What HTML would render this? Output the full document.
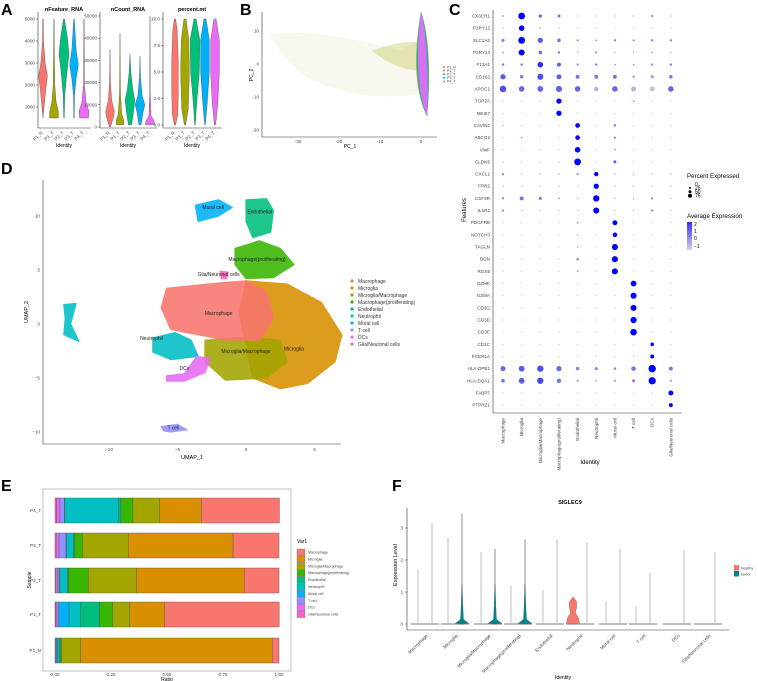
<!DOCTYPE html>
<html><head><meta charset="utf-8"><style>
html,body{margin:0;padding:0;background:#fff;}
svg{display:block;font-family:"Liberation Sans",sans-serif;}
</style></head><body>
<svg id="fig" width="758" height="681" viewBox="0 0 758 681" xmlns="http://www.w3.org/2000/svg">
<g id="letters" font-weight="bold" font-size="16" fill="#000">
<text x="1" y="15">A</text>
<text x="240" y="15">B</text>
<text x="449" y="15">C</text>
<text x="1" y="174">D</text>
<text x="1" y="491">E</text>
<text x="392" y="491">F</text>
</g>
<g id="pA"></g>
<g id="pB"></g>
<g id="pC"></g>
<g id="pD"></g>
<g id="pE"></g>
<g id="pF"></g>
</svg>
<script>
// ---------- data ----------
const sampleNames = ["P1_N","P1_T","P2_T","P3_T","P4_T"];
const sampleColors = ["#F8766D","#A3A500","#00BF7D","#00B0F6","#E76BF3"];
const cellTypes = ["Macrophage","Microglia","Microglia/Macrophage","Macrophage(proliferating)","Endothelial","Neutrophil","Mural cell","T cell","DCs","Glia/Neuronal cells"];
const typeColors = ["#F8766D","#D89000","#A3A500","#39B600","#00BF7D","#00BFC4","#00B0F6","#9590FF","#E76BF3","#FF62BC"];
// panel A violin profiles: [value, halfwidth]
const nFeatureProfiles = [
 [[500,0],[1000,2],[1800,5],[2400,8],[3000,4],[4000,1],[5000,0.5]],
 [[500,8],[800,8],[1200,4],[2000,1.5],[3500,0.8],[5000,0.4]],
 [[500,0.5],[1500,1.5],[2500,5],[3400,9],[4200,6],[5000,1]],
 [[500,0.5],[1500,1],[2300,4],[2900,8],[3600,4],[5000,0.5]],
 [[500,8],[800,9],[1200,4],[2000,1],[5000,0.4]]];
const nCountProfiles = [
 [[0,1],[4000,6],[7000,8],[12000,3],[20000,1],[35000,0]],
 [[1000,7],[3000,7],[6000,3],[15000,1],[42000,0]],
 [[1000,3],[6000,6],[12000,9],[17000,5],[25000,1.5],[33000,0]],
 [[1000,2],[6000,5],[10000,9],[14000,4],[22000,1],[32000,0]],
 [[1000,8],[2500,8],[5000,2],[15000,0.6],[50000,0]]];
const pctMtProfiles = [
 [[0,1],[1,5],[3,6],[6,6],[9,4],[10,1]],
 [[0,1],[1.5,6],[5,8],[8,7],[10,2]],
 [[0,0.5],[2,3],[5,8],[8,9],[10,2]],
 [[0,0.5],[2,4],[5,8],[8,8],[10,2]],
 [[0,1],[2,5],[5,8],[8,8],[10,2]]];
// panel C dot plot
const genes = ["CX3CR1","P2RY12","SLC1A3","P2RY13","F13A1","CD163","APOC1","TOP2A","MKI67","CAVIN2","ABCG2","VWF","CLDN5","CXCL1","FPR2","CSF3R","IL1R2","PDGFRB","NOTCH3","TAGLN","BGN","RGS5","GZMK","GZMA","CD3G","CD3D","CD3E","CD1C","FCER1A","HLA-DPB1","HLA-DQA1","FABP7","PTPRZ1"];
const pctExpr = [
 [5,75,20,15,3,3,3,3,10,3],[3,50,5,3,2,2,2,2,2,2],[15,75,45,20,8,5,10,8,10,10],[5,60,20,10,3,8,3,3,5,3],
 [10,10,50,25,8,10,5,5,8,10],[45,20,60,40,25,25,25,10,20,20],[70,50,55,60,50,30,50,40,40,50],
 [2,2,2,45,2,2,2,5,2,2],[2,2,2,45,2,2,2,2,2,2],[3,2,2,2,35,2,10,2,2,2],[2,5,2,2,35,2,8,2,2,2],
 [2,2,2,2,50,2,5,2,2,2],[3,3,3,3,75,3,15,2,2,2],[8,3,3,3,8,30,3,3,3,3],[3,3,3,3,3,45,3,3,3,3],
 [8,25,15,5,3,65,3,3,8,3],[8,3,3,3,3,60,3,3,8,3],[2,2,2,2,5,2,40,2,2,2],[2,2,2,2,3,2,35,2,2,2],
 [2,2,2,2,3,2,60,2,2,2],[2,2,2,2,10,2,60,2,2,2],[2,2,2,2,5,2,60,2,2,2],[2,2,2,2,2,2,2,55,2,2],
 [2,2,2,2,2,2,2,60,2,2],[2,2,2,2,2,2,2,60,2,2],[2,2,2,2,2,2,2,65,2,2],[2,2,2,2,2,2,2,70,2,2],
 [2,2,2,2,2,2,2,2,20,2],[2,2,2,2,2,2,2,2,25,2],[40,55,65,45,20,15,12,35,90,25],
 [20,55,65,30,8,5,8,15,85,8],[2,2,2,2,2,2,2,2,2,40],[2,2,2,2,2,2,2,2,2,25]];
const avgExpr = [
 [0,2.5,0.6,0.5,-0.5,-0.5,-0.5,-0.5,0,-0.5],[-0.5,2.5,-0.3,-0.5,-0.5,-0.5,-0.5,-0.5,-0.5,-0.5],
 [0.4,2.5,1,0.6,0,0,0.2,0,0.2,0.3],[0,2.5,0.7,0.4,-0.3,0.2,-0.3,-0.3,0,-0.3],
 [0.5,0.3,1.8,0.9,0,0.3,0,0,0.2,0.4],[1,0.5,1.2,1,0.6,0.5,0.6,0,-0.3,0.6],
 [1.2,0.8,0.8,0.9,0.8,-0.4,0.8,-0.5,-0.7,0.8],[-0.5,-0.5,-0.5,2.5,-0.5,-0.5,-0.5,0,-0.5,-0.5],
 [-0.5,-0.5,-0.5,2.5,-0.5,-0.5,-0.5,-0.5,-0.5,-0.5],[-0.3,-0.5,-0.5,-0.5,2.5,-0.5,0.5,-0.5,-0.5,-0.5],
 [-0.5,0,-0.5,-0.5,2.5,-0.5,0.3,-0.5,-0.5,-0.5],[-0.5,-0.5,-0.5,-0.5,2.5,-0.5,0.2,-0.5,-0.5,-0.5],
 [-0.5,-0.5,-0.5,-0.5,2.5,-0.5,0.9,-0.5,-0.5,-0.5],[0.4,-0.3,-0.3,-0.3,0,2.5,-0.3,-0.3,-0.3,-0.3],
 [-0.5,-0.5,-0.5,-0.5,-0.5,2.5,-0.5,-0.5,-0.5,-0.5],[0.3,0.6,0.6,0.2,-0.3,2.5,-0.3,-0.3,0.3,-0.3],
 [0.3,-0.3,-0.3,-0.3,-0.3,2.5,-0.3,-0.3,0.3,-0.3],[-0.5,-0.5,-0.5,-0.5,0,-0.5,2.5,-0.5,-0.5,-0.5],
 [-0.5,-0.5,-0.5,-0.5,0,-0.5,2.5,-0.5,-0.5,-0.5],[-0.5,-0.5,-0.5,-0.5,0,-0.5,2.5,-0.5,-0.5,-0.5],
 [-0.5,-0.5,-0.5,-0.5,0.5,-0.5,2.5,-0.5,-0.5,-0.5],[-0.5,-0.5,-0.5,-0.5,0,-0.5,2.5,-0.5,-0.5,-0.5],
 [-0.5,-0.5,-0.5,-0.5,-0.5,-0.5,-0.5,2.5,-0.5,-0.5],[-0.5,-0.5,-0.5,-0.5,-0.5,-0.5,-0.5,2.5,-0.5,-0.5],
 [-0.5,-0.5,-0.5,-0.5,-0.5,-0.5,-0.5,2.5,-0.5,-0.5],[-0.5,-0.5,-0.5,-0.5,-0.5,-0.5,-0.5,2.5,-0.5,-0.5],
 [-0.5,-0.5,-0.5,-0.5,-0.5,-0.5,-0.5,2.5,-0.5,-0.5],[-0.5,-0.5,-0.5,-0.5,-0.5,-0.5,-0.5,-0.5,2.5,-0.5],
 [-0.5,-0.5,-0.5,-0.5,-0.5,-0.5,-0.5,-0.5,2.5,-0.5],[0.8,1,1.2,0.8,0.3,0.3,0.1,0.5,2.5,0.5],
 [0.7,1,1.3,0.6,0,-0.2,0,0.3,2.5,0],[-0.5,-0.5,-0.5,-0.5,-0.5,-0.5,-0.5,-0.5,-0.5,2.5],
 [-0.5,-0.5,-0.5,-0.5,-0.5,-0.5,-0.5,-0.5,-0.5,2.5]];
// panel E fractions per sample (left→right: Glia ... Macrophage)
const barSamples = ["P4_T","P3_T","P2_T","P1_T","P1_N"];
const stackOrder = [9,8,7,6,5,4,3,2,1,0];
const fracGlia      = [0.007,0.005,0.004,0.003,0.000];
const fracDCs       = [0.015,0.013,0.006,0.006,0.003];
const fracTcell     = [0.020,0.031,0.008,0.008,0.003];
const fracMural     = [0.002,0.003,0.004,0.046,0.005];
const fracNeut      = [0.240,0.031,0.034,0.050,0.008];
const fracEndo      = [0.010,0.004,0.004,0.086,0.004];
const fracProlif    = [0.054,0.036,0.089,0.059,0.006];
const fracMicMac    = [0.119,0.204,0.215,0.076,0.085];
const fracMicroglia = [0.186,0.468,0.481,0.156,0.856];
const fracMacro     = [0.349,0.205,0.155,0.511,0.030];
const fracTicks = ["0.00","0.25","0.50","0.75","1.00"];
// panel F
const healthyMax = [1.7,2.7,2.25,1.2,1.05,0.85,0.7,0.55,0,0];
const tumorMax   = [3.15,3.45,2.35,2.65,2.65,2.55,2.35,1.6,2.3,2.25];
const tumorBulge = [0,0.6,0.6,0.6,0,0,0,0,0,0];
const exprTicks = [0,1,2,3];
</script>
<script>
const NS="http://www.w3.org/2000/svg";
function mk(parent,tag,attrs,text){const e=document.createElementNS(NS,tag);for(const k in attrs)e.setAttribute(k,attrs[k]);if(text!==undefined)e.textContent=text;parent.appendChild(e);return e;}
function vpath(cx,prof,ys,wscale){let l=[],r=[];prof.forEach(p=>{const y=ys(p[0]);r.push((cx+p[1]*wscale).toFixed(1)+","+y.toFixed(1));l.unshift((cx-p[1]*wscale).toFixed(1)+","+y.toFixed(1));});return "M"+r.join("L")+"L"+l.join("L")+"Z";}
const FS=4.6;
// ---------- Panel A ----------
(function(){
 const g=document.getElementById('pA');
 const subs=[
  {title:"nFeature_RNA",ax:38,xs:[43,54,64,74,84],min:500,lo:1000,hi:5000,ylo:107,yhi:19,ticks:[1000,2000,3000,4000,5000],prof:nFeatureProfiles,lab:v=>v},
  {title:"nCount_RNA",ax:100,xs:[110,120,130,140,150],min:0,lo:0,hi:50000,ylo:127,yhi:16,ticks:[0,10000,20000,30000,40000,50000],prof:nCountProfiles,lab:v=>v},
  {title:"percent.mt",ax:163,xs:[175,185,195,205,215],min:0,lo:0,hi:10,ylo:125,yhi:19,ticks:[0,2.5,5,7.5,10],prof:pctMtProfiles,lab:v=>v.toFixed(1)}];
 subs.forEach((s,si)=>{
  const ys=v=>s.ylo+(v-s.lo)/(s.hi-s.lo)*(s.yhi-s.ylo);
  const sg=mk(g,'g',{});
  
  
  mk(sg,'text',{x:(s.ax+s.xs[4])/2+3,y:11,'font-size':5.5,'font-weight':'bold','text-anchor':'middle'},s.title);
  mk(sg,'line',{x1:s.ax,y1:12,x2:s.ax,y2:128,stroke:'#333','stroke-width':0.6});
  mk(sg,'line',{x1:s.ax,y1:128,x2:s.xs[4]+7,y2:128,stroke:'#333','stroke-width':0.6});
  s.ticks.forEach(t=>{const y=ys(t);mk(sg,'line',{x1:s.ax-2,y1:y,x2:s.ax,y2:y,stroke:'#333','stroke-width':0.5});mk(sg,'text',{x:s.ax-3,y:y+1.5,'font-size':FS,'text-anchor':'end',fill:'#444'},s.lab(t));});
  s.xs.forEach((x,i)=>{
   const p=mk(sg,'path',{d:vpath(x,s.prof[i],ys,0.55),fill:sampleColors[i],stroke:'#333','stroke-width':0.3});
   
   
   mk(sg,'text',{x:x,y:133,'font-size':FS,'text-anchor':'end',transform:`rotate(-45 ${x} 133)`,fill:'#444'},sampleNames[i]);
  });
  mk(sg,'text',{x:(s.ax+s.xs[4])/2+3,y:147,'font-size':5,'text-anchor':'middle'},'Identity');
 });
})();
// ---------- Panel B ----------
(function(){
 const g=document.getElementById('pB');
 const xs=v=>421+v*4.1, ys=v=>64-v*3.3;
 mk(g,'path',{d:`M${xs(-37)},${ys(9)} Q${xs(-25)},${ys(11)} ${xs(-5)},${ys(4)} L${xs(0)},${ys(8)} L${xs(0)},${ys(-9)} Q${xs(-15)},${ys(-12)} ${xs(-28)},${ys(-4)} Q${xs(-34)},${ys(2)} ${xs(-37)},${ys(9)}Z`,fill:'#c8c878',opacity:0.12});
 mk(g,'path',{d:`M${xs(-12)},${ys(4)} Q${xs(-3)},${ys(8)} ${xs(0)},${ys(6)} L${xs(0)},${ys(-2)} Q${xs(-6)},${ys(-2)} ${xs(-12)},${ys(4)}Z`,fill:'#a3a500',opacity:0.25});
 const sp=[["#A3A500",0],["#00BF7D",-0.3],["#00B0F6",0],["#E76BF3",0.3]];
 sp.forEach((c,i)=>{const w=[3,2.6,2.4,2][i];mk(g,'path',{d:`M${xs(0)},${ys(16)} Q${xs(w)},${ys(5)} ${xs(1.5)},${ys(-16)} Q${xs(-w)},${ys(-5)} ${xs(0)},${ys(16)}Z`,fill:c[0],opacity:i==3?0.95:0.8});});
 mk(g,'line',{x1:262,y1:12,x2:262,y2:137,stroke:'#333','stroke-width':0.6});
 mk(g,'line',{x1:262,y1:137,x2:437,y2:137,stroke:'#333','stroke-width':0.6});
 [10,0,-10,-20].forEach(t=>{mk(g,'text',{x:259,y:ys(t)+1.5,'font-size':FS,'text-anchor':'end',fill:'#444'},t);});
 [-30,-20,-10,0].forEach(t=>{mk(g,'text',{x:xs(t),y:143,'font-size':FS,'text-anchor':'middle',fill:'#444'},t);});
 mk(g,'text',{x:350,y:148,'font-size':5,'text-anchor':'middle'},'PC_1');
 mk(g,'text',{x:253,y:75,'font-size':5,'text-anchor':'middle',transform:'rotate(-90 253 75)'},'PC_2');
 sampleNames.forEach((n,i)=>{const y=67+i*3.6;const e=mk(g,'g',{});mk(e,'circle',{cx:444,cy:y,r:1,fill:sampleColors[i]});mk(e,'text',{x:447,y:y+1.3,'font-size':3.5,fill:'#444'},n);});
})();
// ---------- Panel C ----------
(function(){
 const g=document.getElementById('pC');
 const cx=i=>503+i*18.65, cy=j=>16+j*12.16;
 mk(g,'line',{x1:493,y1:10,x2:493,y2:413,stroke:'#333','stroke-width':0.6});
 mk(g,'line',{x1:493,y1:413,x2:682,y2:413,stroke:'#333','stroke-width':0.6});
 const col=a=>{const t=Math.max(0,Math.min(1,(a+1)/3.5));const r=Math.round(211*(1-t)),gg=Math.round(211*(1-t)),b=Math.round(211+(255-211)*t);return `rgb(${r},${gg},${b})`;};
 genes.forEach((gn,j)=>{
  mk(g,'text',{x:490,y:cy(j)+1.5,'font-size':FS,'text-anchor':'end',fill:'#444'},gn);
  cellTypes.forEach((ct,i)=>{
   const r=Math.max(0.4,Math.sqrt(pctExpr[j][i]/75)*3.4);
   const c=mk(g,'circle',{cx:cx(i),cy:cy(j),r:r.toFixed(2),fill:col(avgExpr[j][i])});
   
   
  });
 });
 cellTypes.forEach((ct,i)=>{mk(g,'text',{x:cx(i)+1.5,y:418,'font-size':FS,'text-anchor':'end',fill:'#444',transform:`rotate(-90 ${cx(i)+1.5} 418)`},ct);});
 mk(g,'text',{x:590,y:464,'font-size':6,'text-anchor':'middle'},'Identity');
 mk(g,'text',{x:466,y:210,'font-size':6,'text-anchor':'middle',transform:'rotate(-90 466 210)'},'Features');
 const lg=mk(g,'g',{});
 mk(lg,'text',{x:687,y:178,'font-size':6.2},'Percent Expressed');
 [[0,0.3],[25,1],[50,1.5],[75,2]].forEach((p,k)=>{const y=184+k*3.9;mk(lg,'circle',{cx:690,cy:y,r:p[1],fill:'#000'});mk(lg,'text',{x:695,y:y+1.8,'font-size':5},p[0]);});
 mk(lg,'text',{x:687,y:218,'font-size':6.2},'Average Expression');
 const gr=mk(lg,'defs',{});const lgd=mk(gr,'linearGradient',{id:'cbar',x1:0,y1:1,x2:0,y2:0});mk(lgd,'stop',{offset:0,'stop-color':'#d3d3e6'});mk(lgd,'stop',{offset:1,'stop-color':'#3a2ff0'});
 mk(lg,'rect',{x:687,y:222,width:5,height:28,fill:'url(#cbar)'});
 [[2,226],[1,233],[0,240],[-1,248]].forEach(p=>mk(lg,'text',{x:694,y:p[1],'font-size':5},p[0]==-1?'−1':p[0]));
})();
// ---------- Panel D ----------
(function(){
 const g=document.getElementById('pD');
 const xs=v=>246+v*13.7, ys=v=>324-v*10.8;
 const P=pts=>'M'+pts.map(p=>xs(p[0]).toFixed(1)+','+ys(p[1]).toFixed(1)).join('L')+'Z';
 const blobs=[
  [1,[[0,4],[3,3.7],[5.5,2],[7,-1],[6.5,-3.5],[4.5,-5.5],[2.5,-6],[0.5,-5],[0,-2],[-0.5,1]]],
  [2,[[-3,-1.5],[0,-1.2],[2.5,-1.5],[3,-3.5],[1.5,-5],[-1.5,-5.2],[-3,-3.5]]],
  [0,[[-5.8,3.3],[-2,3.8],[0,4],[1.5,3],[2,0.5],[1,-1.5],[-1.5,-1.5],[-3.5,-1],[-5.5,-0.5],[-6.2,1.5]]],
  [3,[[-0.8,7],[1,7.7],[2.5,7],[3.5,5.5],[2,4.3],[0,4.2],[-0.8,5.5]]],
  [4,[[0,11.5],[1.5,11.6],[2,10.5],[1.8,8.5],[0.5,8],[0,9.5]]],
  [6,[[-3.7,11],[-2,11.5],[-1,10.8],[-2,10],[-3.5,9.5]]],
  [5,[[-13.3,1.8],[-12.4,1.9],[-12.8,0],[-12.2,-1.6],[-13.3,-1],[-13.2,0.5]]],
  [5,[[-6.8,-1.3],[-5.2,-0.8],[-4,-1.5],[-3.5,-3],[-5.5,-3.3],[-6.8,-2.6]]],
  [8,[[-3.6,-3],[-2.6,-3.2],[-3,-4.5],[-4.5,-5.3],[-5.8,-5.3],[-5.8,-4.8],[-4.5,-4.6]]],
  [7,[[-6.2,-9.5],[-5,-9.3],[-4.3,-9.8],[-5.5,-10],[-6,-9.9]]],
  [9,[[-1.9,4.9],[-1.3,4.8],[-1.4,4.2],[-1.8,4.2]]]];
 blobs.forEach((b,k)=>{const p=mk(g,'path',{d:P(b[1]),fill:typeColors[b[0]],opacity:0.88,'stroke':typeColors[b[0]],'stroke-width':1.2,'stroke-linejoin':'round'});});
 [["Macrophage",-2,1],["Microglia",3.5,-2.3],["Microglia/Macrophage",0,-2.5],["Macrophage(proliferating)",0.8,6],["Endothelial",1,10.4],["Mural cell",-2.4,10.8],["Neutrophil",-6.9,-1.3],["DCs",-4.5,-4.1],["T cell",-5.3,-9.6],["Glia/Neuronal cells",-2,4.6]].forEach(l=>mk(g,'text',{x:xs(l[1]),y:ys(l[2])+1.8,'font-size':5,'text-anchor':'middle',fill:'#222'},l[0]));
 mk(g,'line',{x1:43,y1:180,x2:43,y2:444,stroke:'#333','stroke-width':0.6});
 mk(g,'line',{x1:43,y1:444,x2:341,y2:444,stroke:'#333','stroke-width':0.6});
 [10,5,0,-5,-10].forEach(t=>mk(g,'text',{x:40,y:ys(t)+1.6,'font-size':FS,'text-anchor':'end',fill:'#444'},t==0?'0':(t<0?'−'+(-t):t)));
 [-10,-5,0,5].forEach(t=>mk(g,'text',{x:xs(t),y:451,'font-size':FS,'text-anchor':'middle',fill:'#444'},t<0?'−'+(-t):t));
 mk(g,'text',{x:192,y:459,'font-size':5.5,'text-anchor':'middle'},'UMAP_1');
 mk(g,'text',{x:28,y:312,'font-size':5.5,'text-anchor':'middle',transform:'rotate(-90 28 312)'},'UMAP_2');
 cellTypes.forEach((ct,i)=>{const y=281+i*7;const e=mk(g,'g',{});mk(e,'circle',{cx:352,cy:y,r:1.6,fill:typeColors[i]});mk(e,'text',{x:358,y:y+1.8,'font-size':5,fill:'#333'},ct);});
})();
// ---------- Panel E ----------
(function(){
 const g=document.getElementById('pE');
 const fr=[fracMacro,fracMicroglia,fracMicMac,fracProlif,fracEndo,fracNeut,fracMural,fracTcell,fracDCs,fracGlia];
 const xs=v=>55+v*224;
 mk(g,'rect',{x:43,y:489,width:248,height:182,fill:'none',stroke:'#999','stroke-width':0.6});
 const ytop=[498,533,568,602,638];
 barSamples.forEach((s,bi)=>{
  let acc=0;
  stackOrder.forEach(ti=>{const v=fr[ti][bi];const r=mk(g,'rect',{x:xs(acc).toFixed(2),y:ytop[bi],width:(v*224).toFixed(2),height:25,fill:typeColors[ti],stroke:'#555','stroke-width':0.4});acc+=v;});
  mk(g,'text',{x:41,y:ytop[bi]+14,'font-size':FS,'text-anchor':'end',fill:'#444'},s);
 });
 fracTicks.forEach(t=>mk(g,'text',{x:xs(+t),y:676,'font-size':FS,'text-anchor':'middle',fill:'#444'},t));
 mk(g,'text',{x:167,y:681,'font-size':5,'text-anchor':'middle'},'Ratio');
 mk(g,'text',{x:31,y:580,'font-size':5,'text-anchor':'middle',transform:'rotate(-90 31 580)'},'Sample');
 mk(g,'text',{x:297,y:543,'font-size':5},'Var1');
 cellTypes.forEach((ct,i)=>{const y=549+i*6.9;const e=mk(g,'g',{});mk(e,'rect',{x:297,y:y,width:8,height:6.5,fill:typeColors[i],stroke:'#666','stroke-width':0.3});mk(e,'text',{x:308,y:y+4.5,'font-size':3.6,fill:'#444'},ct);});
})();
// ---------- Panel F ----------
(function(){
 const g=document.getElementById('pF');
 const centers=[425,455,488,518,550,580,613,643,677,708];
 const ys=v=>624-v*32;
 mk(g,'text',{x:570,y:504,'font-size':5.5,'font-weight':'bold','text-anchor':'middle'},'SIGLEC9');
 mk(g,'line',{x1:407,y1:508,x2:407,y2:630,stroke:'#333','stroke-width':0.6});
 mk(g,'line',{x1:407,y1:630,x2:729,y2:630,stroke:'#333','stroke-width':0.6});
 exprTicks.forEach(t=>{mk(g,'line',{x1:405,y1:ys(t),x2:407,y2:ys(t),stroke:'#333','stroke-width':0.5});mk(g,'text',{x:403,y:ys(t)+1.6,'font-size':FS,'text-anchor':'end',fill:'#444'},t);});
 centers.forEach((c,i)=>{
  const gg=mk(g,'g',{});
  mk(gg,'rect',{x:c-14,y:ys(0)-0.6,width:28,height:1.2,fill:'#bbb',stroke:'#777','stroke-width':0.2});
  if(healthyMax[i]>0){
   if(i==5){mk(gg,'path',{d:vpath(c-7,[[0,0],[0.02,11],[0.2,9],[0.35,4],[0.5,6],[0.7,6],[healthyMax[i],0]],ys,0.6),fill:'#F8766D',stroke:'#555','stroke-width':0.3});}
   else mk(gg,'line',{x1:c-7,y1:ys(0),x2:c-7,y2:ys(healthyMax[i]),stroke:'#bbb','stroke-width':0.9});
  }
  mk(gg,'line',{x1:c+7,y1:ys(0),x2:c+7,y2:ys(tumorMax[i]),stroke:i==0||i>=4?'#aaa':'#777','stroke-width':0.8});
  if(tumorBulge[i]>0) mk(gg,'path',{d:vpath(c+7,[[0,0],[0.02,7],[0.08,4],[0.15,1.5],[0.6,0.8],[1.2,0.2],[1.25,0]],ys,1),fill:'#00868B',stroke:'#444','stroke-width':0.3});
  mk(g,'text',{x:c+3,y:636,'font-size':FS,'text-anchor':'end',fill:'#444',transform:`rotate(-45 ${c+3} 636)`},cellTypes[i]);
 });
 mk(g,'text',{x:563,y:679,'font-size':5,'text-anchor':'middle'},'Identity');
 mk(g,'text',{x:397,y:565,'font-size':5.5,'text-anchor':'middle',transform:'rotate(-90 397 565)'},'Expression Level');
 [['healthy','#F8766D'],['tumor','#00868B']].forEach((l,k)=>{const e=mk(g,'g',{});mk(e,'rect',{x:734,y:565+k*6,width:5,height:5.5,fill:l[1]});mk(e,'text',{x:741,y:569.5+k*6,'font-size':3.8,fill:'#444'},l[0]);});
})();
</script>
</body></html>
